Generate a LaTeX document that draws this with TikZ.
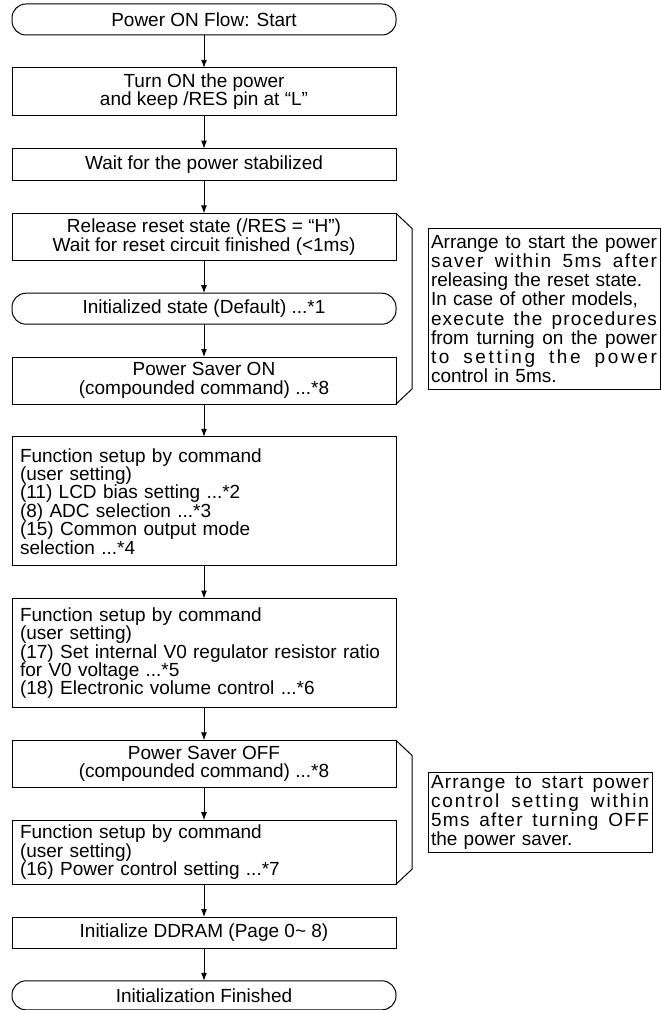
\documentclass[tikz,border=0pt]{standalone}
\usepackage{fontspec}
\setmainfont{Liberation Sans}
\usetikzlibrary{arrows.meta, positioning, calc}
\newcommand{\boxfont}{\fontsize{9.5pt}{9.2pt}\selectfont}
\newcommand{\spreadline}[3][0]{\leavevmode\hbox to #2{\addfontfeature{LetterSpace=#1}\spaceskip=0.278em plus 1em\relax #3}}
\tikzset{
  block/.style={rectangle, draw, line width=0.5pt, outer sep=0pt, minimum width=192pt,
    inner xsep=4pt, inner ysep=1.5pt, align=center, font=\boxfont},
  blockL/.style={block, text width=184pt, align=left},
  term/.style={block, rounded corners=7pt},
  note/.style={rectangle, draw, line width=0.5pt, outer sep=0pt, inner xsep=1.5pt,
    inner ysep=1pt, align=left, font=\fontsize{9.5pt}{9.6pt}\selectfont},
  arrow/.style={-{Latex[length=4pt, width=3pt]}, line width=0.5pt},
  brace/.style={line width=0.5pt},
}
\begin{document}
\begin{tikzpicture}[node distance=16.4pt]
\useasboundingbox (0,0) rectangle (330.5pt,-505pt);
\node[term, anchor=north, minimum height=15.5pt] (start) at (102pt,-2pt) {Power ON Flow: Start};
\node[block, below=of start, minimum height=24pt] (pwr) {Turn ON the power\\and keep /RES pin at “L”};
\node[block, below=of pwr, minimum height=16pt] (stab) {Wait for the power stabilized};
\node[block, below=of stab, minimum height=23.5pt] (rel) {Release reset state (/RES = “H”)\\Wait for reset circuit finished (<1ms)};
\node[term, below=of rel, minimum height=15.5pt] (init) {Initialized state (Default) ...*1};
\node[block, below=of init, minimum height=23.5pt] (pson) {Power Saver ON\\(compounded command) ...*8};
\node[blockL, below=of pson, minimum height=64.5pt] (fsa) {Function setup by command\\(user setting)\\(11) LCD bias setting ...*2\\(8) ADC selection ...*3\\(15) Common output mode\\selection ...*4};
\node[blockL, below=of fsa, minimum height=54.5pt] (fsb) {Function setup by command\\(user setting)\\\mbox{(17) Set internal V0 regulator resistor ratio}\\for V0 voltage ...*5\\(18) Electronic volume control ...*6};
\node[block, below=of fsb, minimum height=23.5pt] (psoff) {Power Saver OFF\\(compounded command) ...*8};
\node[blockL, below=of psoff, minimum height=32pt] (fsc) {Function setup by command\\(user setting)\\(16) Power control setting ...*7};
\node[block, below=of fsc, minimum height=15.5pt] (ddram) {Initialize DDRAM (Page 0\~{} 8)};
\node[term, below=of ddram, minimum height=14.5pt] (fin) {Initialization Finished};

\node[note, anchor=west, text width=113pt, minimum height=80.5pt] (noteA) at ($(rel.north east)!0.5!(pson.south east)+(16pt,0)$)
  {\spreadline{113pt}{Arrange to start the power}\\\spreadline[8]{113pt}{saver within 5ms after}\\releasing the reset state.\\In case of other models,\\\spreadline[6]{113pt}{execute the procedures}\\\spreadline{113pt}{from turning on the power}\\\spreadline[14]{113pt}{to setting the power}\\control in 5ms.};
\node[note, anchor=west, text width=109pt, minimum height=40pt] (noteB) at ($(psoff.north east)!0.5!(fsc.south east)+(16pt,0)$)
  {\spreadline[6]{109pt}{Arrange to start power}\\\spreadline[10]{109pt}{control setting within}\\\spreadline[7]{109pt}{5ms after turning OFF}\\the power saver.};

\draw[arrow] (start) -- (pwr);
\draw[arrow] (pwr) -- (stab);
\draw[arrow] (stab) -- (rel);
\draw[arrow] (rel) -- (init);
\draw[arrow] (init) -- (pson);
\draw[arrow] (pson) -- (fsa);
\draw[arrow] (fsa) -- (fsb);
\draw[arrow] (fsb) -- (psoff);
\draw[arrow] (psoff) -- (fsc);
\draw[arrow] (fsc) -- (ddram);
\draw[arrow] (ddram) -- (fin);

\draw[brace] (rel.north east) -- ++(8pt,-7.5pt) -- ($(pson.south east)+(8pt,7.5pt)$) -- (pson.south east);
\draw[brace] (psoff.north east) -- ++(8pt,-7.5pt) -- ($(fsc.south east)+(8pt,7.5pt)$) -- (fsc.south east);
\end{tikzpicture}
\end{document}
